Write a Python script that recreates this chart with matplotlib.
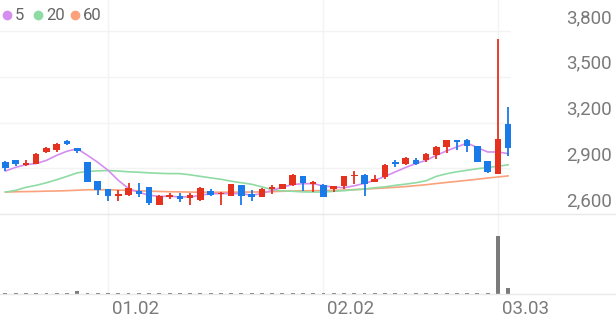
import numpy as np
import matplotlib.pyplot as plt
from matplotlib.lines import Line2D
from matplotlib import transforms

plt.rcParams['font.family'] = ['Roboto', 'DejaVu Sans']

# daily candles
opens = [2941, 2954, 2924, 2928, 3010, 3023, 3082, 3031, 2941, 2815,
         2762, 2716, 2723, 2749, 2775, 2661, 2711, 2720, 2705, 2689,
         2749, 2729, 2718, 2788, 2729, 2711, 2762, 2767, 2788, 2847,
         2799, 2793, 2767, 2782, 2847, 2858, 2810, 2843, 2939, 2926,
         2952, 2952, 2990, 3040, 3084, 3084, 3047, 2948, 2865, 3189]
highs = [2945, 2956, 2954, 2997, 3040, 3069, 3085, 3033, 2943, 2817,
         2765, 2755, 2806, 2806, 2778, 2722, 2738, 2740, 2740, 2775,
         2767, 2744, 2800, 2790, 2760, 2769, 2788, 2800, 2860, 2850,
         2815, 2795, 2784, 2851, 2880, 2860, 2854, 2927, 2957, 2975,
         2968, 2999, 3049, 3088, 3086, 3090, 3049, 2950, 3747, 3303]
lows = [2882, 2915, 2915, 2925, 2997, 3007, 3052, 2998, 2808, 2723,
        2683, 2683, 2720, 2711, 2657, 2659, 2696, 2679, 2661, 2683,
        2716, 2661, 2715, 2661, 2683, 2709, 2734, 2764, 2785, 2749,
        2744, 2712, 2744, 2767, 2799, 2716, 2808, 2832, 2908, 2924,
        2920, 2941, 2964, 3001, 3018, 3007, 2939, 2872, 2862, 2979]
closes = [2905, 2931, 2935, 2994, 3030, 3060, 3056, 3013, 2810, 2755,
          2716, 2734, 2771, 2734, 2675, 2720, 2723, 2701, 2723, 2771,
          2727, 2738, 2797, 2718, 2711, 2767, 2775, 2797, 2854, 2806,
          2810, 2714, 2782, 2849, 2858, 2795, 2832, 2924, 2926, 2968,
          2931, 2996, 3040, 3084, 3073, 3045, 2941, 2874, 3089, 3036]
volumes = [12, 10, 14, 16, 15, 18, 14, 45, 20, 16,
           12, 11, 13, 10, 15, 12, 9, 10, 11, 12,
           10, 9, 13, 12, 10, 11, 12, 14, 22, 13,
           11, 14, 10, 12, 16, 13, 12, 18, 15, 13,
           12, 14, 16, 20, 15, 13, 17, 15, 1000, 100]

# moving average lines as drawn
ma5 = [2882, 2906, 2924, 2931, 2952, 2985, 3012, 3028, 2985, 2939,
       2887, 2821, 2767, 2742, 2723, 2716, 2716, 2713, 2711, 2723,
       2733, 2734, 2734, 2734, 2723, 2734, 2755, 2777, 2793, 2799,
       2799, 2784, 2777, 2772, 2785, 2801, 2821, 2847, 2876, 2905,
       2931, 2952, 2985, 3014, 3040, 3065, 3036, 3007, 3007, 2996]
ma20 = [2744, 2755, 2775, 2788, 2805, 2825, 2847, 2870, 2880, 2883,
        2885, 2882, 2877, 2874, 2870, 2867, 2865, 2865, 2857, 2847,
        2837, 2828, 2815, 2805, 2795, 2778, 2759, 2752, 2749, 2745,
        2744, 2744, 2749, 2753, 2759, 2764, 2772, 2778, 2788, 2796,
        2805, 2818, 2847, 2864, 2877, 2887, 2897, 2905, 2913, 2923]
ma60 = [2744, 2746, 2747, 2748, 2750, 2751, 2753, 2756, 2759, 2759,
        2759, 2757, 2755, 2752, 2750, 2748, 2746, 2745, 2744, 2743,
        2743, 2743, 2743, 2744, 2744, 2745, 2747, 2749, 2751, 2752,
        2753, 2754, 2755, 2757, 2760, 2763, 2767, 2771, 2775, 2780,
        2786, 2792, 2800, 2807, 2814, 2821, 2828, 2836, 2843, 2850]

tick_pos = [10, 31, 48]
tick_labels = ['01.02', '02.02', '03.03']
price_ticks = [2600, 2900, 3200, 3500, 3800]
ma_names = ['5', '20', '60']

RED = '#e5321e'
BLUE = '#1a7ae8'
MA_COLORS = ['#d58ef0', '#8fdba4', '#fba27c']
GRID = '#f3f3f3'
TXT = '#7a7a7a'

W, H = 616, 321
fig = plt.figure(figsize=(W / 100, H / 100), dpi=100)

ax = fig.add_axes([0, 1 - 214 / H, 511 / W, 214 / H])
axv = fig.add_axes([0, 1 - 294 / H, 511 / W, 80 / H])

x = np.arange(len(opens))
o = np.array(opens)
c = np.array(closes)
up = c >= o
cols = np.where(up, RED, BLUE)

for a in (ax, axv):
    for s in a.spines.values():
        s.set_visible(False)
    a.set_xticks([])
    a.set_yticks([])
    a.set_xlim(-0.53, 49.28)
    a.patch.set_alpha(0)
    for p in tick_pos:
        a.axvline(p, color=GRID, lw=1, zorder=0)

for p in price_ticks[1:]:
    ax.axhline(p, color=GRID, lw=1, zorder=0)
ax.set_ylim(2600, 4004)

# moving averages
for vals, col in zip([ma60, ma20, ma5], MA_COLORS[::-1]):
    ax.plot(x, vals, color=col, lw=1.2, zorder=2)

# candles
ax.vlines(x, lows, highs, colors=cols, lw=1.3, zorder=3)
body = np.where(np.abs(c - o) < 6, 6, c - o)
ax.bar(x, body, bottom=o, width=0.64, color=cols, zorder=4)

# volume
axv.bar(x, volumes, width=0.38, color='#7b7b7b', zorder=2)
axv.set_ylim(0, 1379)

# separator lines
fig.add_artist(Line2D([0, 1], [1 - 214 / H] * 2, color='#e8e8e8', lw=1))
fig.add_artist(Line2D([0, 1], [1 - 294 / H] * 2, color='#e8e8e8', lw=1))

# price labels
lab_tr = transforms.offset_copy(ax.get_yaxis_transform(), fig=fig, x=0, y=4, units='dots')
for p in price_ticks:
    ax.text(612 / 511, p, f'{p:,}', transform=lab_tr, ha='right', va='bottom',
            fontsize=13.5, color=TXT, clip_on=False)

# date labels
date_tr = transforms.offset_copy(
    transforms.blended_transform_factory(axv.transData, axv.transAxes),
    fig=fig, x=4, y=-15, units='dots')
for p, t in zip(tick_pos, tick_labels):
    axv.text(p, 0, t, transform=date_tr, ha='left', va='center',
             fontsize=13.5, color=TXT, clip_on=False)

# legend
lx = [6.5, 38, 74.5]
for px, name, col in zip(lx, ma_names, MA_COLORS):
    fig.add_artist(Line2D([px / W], [1 - 15 / H], marker='o', markersize=6,
                          color=col, lw=0))
    fig.text((px + 8) / W, 1 - 15.5 / H, name, ha='left', va='center',
             fontsize=12, color='#666666')

fig.savefig('out.png', dpi=100)
